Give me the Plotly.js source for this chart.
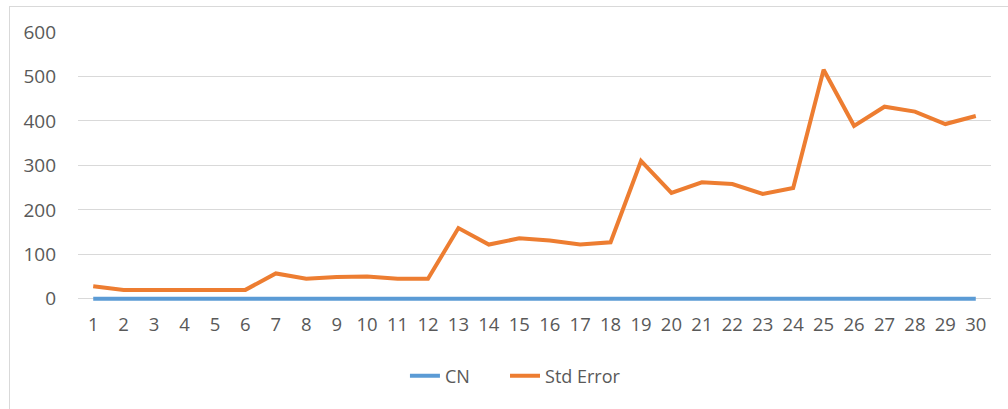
<!DOCTYPE html>
<html>
<head>
<meta charset="utf-8">
<script src="https://cdn.plot.ly/plotly-3.0.1.min.js"></script>
<style>
  html, body { margin: 0; padding: 0; background: #ffffff; }
  #frame { position: absolute; left: 9px; top: 6px; width: 1010px; height: 420px; border: 1px solid #d9d9d9; box-sizing: border-box; }
  #chart { position: absolute; left: 0; top: 0; width: 1008px; height: 409px; }
</style>
</head>
<body>
<div id="frame"></div>
<div id="chart"></div>
<script>
const categories = ['1','2','3','4','5','6','7','8','9','10','11','12','13','14','15','16','17','18','19','20','21','22','23','24','25','26','27','28','29','30'];
const cnValues = [0,0,0,0,0,0,0,0,0,0,0,0,0,0,0,0,0,0,0,0,0,0,0,0,0,0,0,0,0,0];
const stdErrorValues = [28,20,20,20,20,20,57,45,49,50,45,45,159,122,136,131,122,127,310,238,262,258,236,249,515,389,432,421,393,411];
const yTicks = [0,100,200,300,400,500,600];

const fontFamily = '"Open Sans", "Liberation Sans", sans-serif';
const textColor = '#595959';

const traces = [
  { x: categories, y: cnValues, name: 'CN', type: 'scatter', mode: 'lines',
    line: { color: '#5B9BD5', width: 4 }, legend: 'legend' },
  { x: categories, y: stdErrorValues, name: 'Std Error', type: 'scatter', mode: 'lines',
    line: { color: '#ED7D31', width: 4 }, legend: 'legend2' }
];

const legendFont = { family: fontFamily, size: 18, color: textColor };

const layout = {
  width: 1008, height: 409,
  margin: { l: 78, r: 17, t: 32, b: 108, autoexpand: false },
  paper_bgcolor: 'rgba(0,0,0,0)',
  plot_bgcolor: 'rgba(0,0,0,0)',
  font: { family: fontFamily, size: 18, color: textColor },
  showlegend: true,
  legend: { orientation: 'h', x: 0.3581, xanchor: 'left', y: 0.0807, yref: 'container', yanchor: 'middle',
    font: legendFont, bgcolor: 'rgba(0,0,0,0)' },
  legend2: { orientation: 'h', x: 0.4677, xanchor: 'left', y: 0.0807, yref: 'container', yanchor: 'middle',
    font: legendFont, bgcolor: 'rgba(0,0,0,0)' },
  xaxis: { type: 'category', range: [-0.5, 29.5], showgrid: false, zeroline: false,
    showline: false, ticks: '', tickfont: { size: 18.5, color: textColor }, ticklabelstandoff: 10, fixedrange: true },
  yaxis: { range: [-5, 600], tickvals: yTicks, ticktext: yTicks.map(String), showgrid: true,
    gridcolor: '#d9d9d9', gridwidth: 1, zeroline: true, zerolinecolor: '#d9d9d9', zerolinewidth: 1,
    showline: false, ticks: '', tickfont: { size: 19, color: textColor }, ticklabelstandoff: 21, fixedrange: true }
};

Plotly.newPlot('chart', traces, layout, { displayModeBar: false, staticPlot: true });
</script>
</body>
</html>
